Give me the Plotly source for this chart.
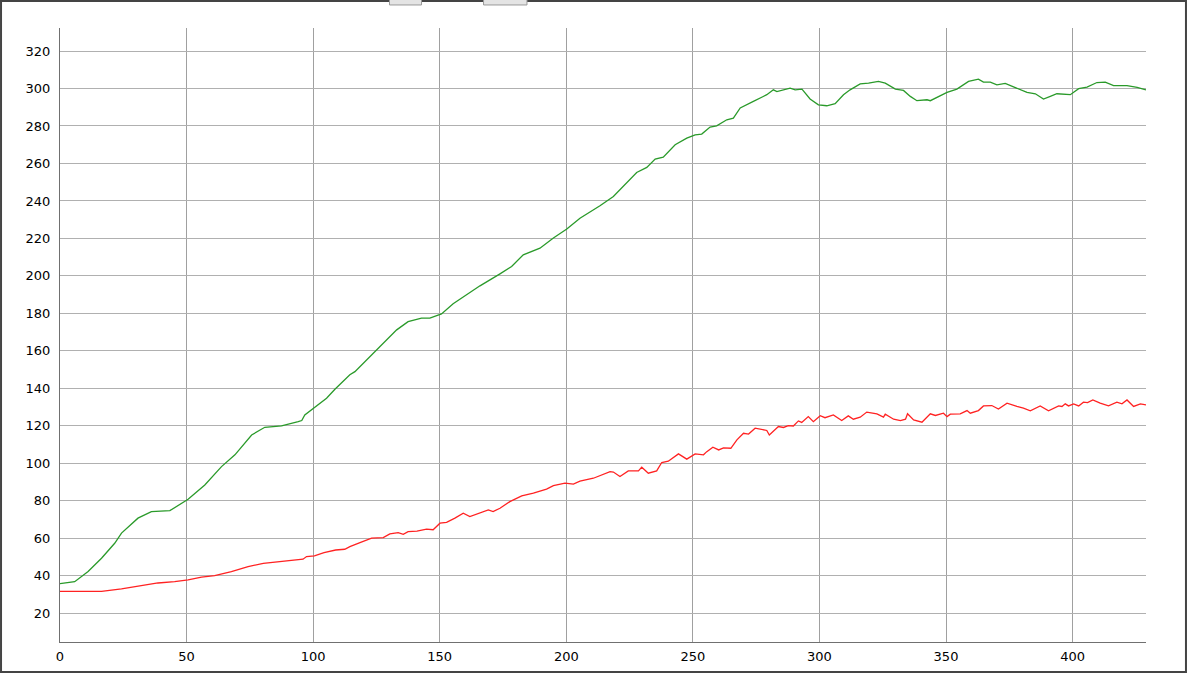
import plotly.graph_objects as go

# green series
green_x = [0, 5.8, 11.1, 16.4, 21.6, 24.3, 30.8, 36.1, 43.4, 50.6, 57.2, 63.8, 69.1, 75.7, 80.9,
           87.5, 94.1, 95.5, 96.7, 103.3, 105.3, 108.6, 114.5, 116.5, 123.7, 133.0, 137.5, 142.8,
           146.1, 150.7, 155.3, 160.6, 165.9, 173.8, 178.4, 183.0, 189.6, 194.9, 200.2, 205.4,
           210.7, 213.3, 218.6, 222.5, 227.8, 231.8, 235.1, 238.3, 243.0, 247.6, 250.9, 253.5,
           256.8, 259.4, 263.4, 266.0, 268.7, 273.9, 279.2, 281.8, 283.2, 288.4, 290.4, 293.1,
           296.3, 299.6, 302.9, 306.2, 309.5, 312.1, 316.1, 319.4, 323.3, 326.0, 330.0, 333.2,
           335.9, 338.5, 342.5, 343.8, 346.4, 350.4, 354.3, 358.9, 362.8, 364.8, 367.5, 370.1,
           373.4, 376.7, 382.0, 385.3, 388.5, 391.2, 393.8, 399.1, 402.4, 405.7, 409.6, 412.9,
           416.2, 421.5, 425.5, 429]
green_y = [35.8, 36.8, 42.2, 49.3, 57.3, 62.7, 70.7, 74.2, 74.7, 80.8, 88.4, 98.2, 104.5, 115.1, 119.2,
           119.9, 122.2, 122.8, 125.8, 132.9, 134.7, 139.5, 147.2, 148.9, 158.8, 171.2, 175.6, 177.5,
           177.5, 179.7, 185.1, 189.9, 194.7, 201.1, 205.0, 211.2, 214.8, 220.2, 225.0, 230.8,
           235.3, 237.4, 242.4, 247.7, 255.2, 257.9, 262.3, 263.4, 270.0, 273.5, 275.3, 275.7,
           279.4, 280.1, 283.3, 284.2, 289.6, 293.1, 296.7, 299.3, 298.4, 300.2, 299.3, 299.7,
           294.4, 291.3, 290.8, 291.9, 296.7, 299.3, 302.5, 302.9, 303.8, 302.9, 299.7, 299.0,
           295.8, 293.5, 294.0, 293.5, 295.2, 297.9, 299.7, 303.8, 305.0, 303.4, 303.4, 302.0,
           302.7, 300.8, 297.9, 297.2, 294.4, 295.8, 297.2, 296.7, 299.9, 300.8, 303.2, 303.4,
           301.5, 301.5, 300.6, 299.3]

# red series
red_x = [0, 16.4, 24.3, 32.2, 38.7, 45.3, 50.6, 55.9, 61.1, 67.7, 74.3, 80.3, 87.5, 92.8, 96, 97.4,
         100.5, 104.3, 108.9, 112.5, 114.5, 118.5, 123.1, 127.7, 130.3, 133.6, 135.6, 137.5, 141,
         144.8, 147.4, 150.1, 152.7, 156.0, 159.3, 161.9, 165.9, 169.2, 171.1, 173.8, 177.7, 182.4,
         187.0, 192.2, 194.9, 199.5, 202.8, 205.4, 210.7, 217.3, 218.6, 221.2, 224.5, 228.5, 229.8,
         232.4, 235.7, 237.7, 240.3, 244.3, 247.6, 250.9, 254.2, 255.5, 257.9, 260.2, 262.1, 265,
         267.4, 270.0, 272, 274.6, 279.2, 280.2, 283.8, 285.8, 287.7, 289.7, 291.7, 293.0, 295.6,
         297.6, 300.3, 302.2, 305.5, 308.8, 311.4, 313.4, 316.1, 318.7, 322.7, 325.3, 326, 329.3,
         332, 334, 334.8, 337.2, 340.5, 343.8, 345.8, 349.0, 350.4, 351.7, 355.6, 358.3, 359.6,
         362.8, 364.8, 368.1, 370.7, 374.1, 378, 380.6, 383.3, 387.2, 390.5, 392.5, 394.5, 395.8,
         397.1, 398.4, 400.4, 402.4, 404.3, 405.9, 408.0, 410.9, 414.2, 417.5, 419.5, 421.5, 424.1,
         426.8, 429]
red_y = [31.6, 31.6, 32.9, 34.5, 36.1, 36.8, 37.7, 39.2, 40.0, 42.2, 44.8, 46.6, 47.7, 48.4, 48.8, 50.2,
         50.6, 52.3, 53.7, 54.1, 55.5, 57.6, 60.0, 60.3, 62.3, 63.0, 62.1, 63.5, 63.8,
         64.8, 64.5, 68.0, 68.5, 70.7, 73.3, 71.5, 73.3, 75.1, 74.2, 76.0, 79.5, 82.6,
         84.0, 86.2, 88.1, 89.4, 88.9, 90.4, 92.0, 95.5, 95.3, 92.9, 95.9, 95.9, 97.9,
         94.7, 95.9, 100.4, 101.1, 105.0, 102.2, 105.0, 104.5, 106.2, 108.6, 107.1, 108.2, 108.0,
         112.5, 116.0, 115.6, 118.7, 117.5, 115.1, 119.6, 119.1, 120.1, 119.9, 122.6, 121.8, 124.9,
         122.2, 125.4, 124.3, 125.8, 122.8, 125.3, 123.5, 124.6, 127.3, 126.3, 124.6, 126.2, 123.5,
         122.8, 123.5, 126.4, 123.1, 121.9, 126.4, 125.5, 126.7, 124.9, 126.2, 126.4, 128.1, 126.7,
         128.1, 130.6, 130.8, 128.9, 132.1, 130.3, 129.4, 128.0, 130.6, 128.0, 129.4, 130.6, 130.3,
         131.7, 130.6, 131.7, 130.6, 132.6, 132.4, 133.8, 132.1, 130.6, 132.6, 131.7, 133.8, 130.3,
         131.7, 131.2]

fig = go.Figure()
fig.add_trace(go.Scatter(x=green_x, y=green_y, mode="lines",
                         line=dict(color="#2a9a2a", width=1.3)))
fig.add_trace(go.Scatter(x=red_x, y=red_y, mode="lines",
                         line=dict(color="#ff2222", width=1.3)))

axis_font = dict(family="DejaVu Sans", size=13, color="#000000")
fig.update_xaxes(range=[0, 429], dtick=50, tick0=0, showgrid=True, gridcolor="#a0a0a0",
                 gridwidth=1, zeroline=False, showline=True, linecolor="#707070", linewidth=1,
                 ticks="", ticklabelstandoff=2, tickfont=axis_font, automargin=False)
fig.update_yaxes(range=[4.6, 332.3], dtick=20, tick0=0, showgrid=True, gridcolor="#b0b0b0",
                 gridwidth=1, zeroline=False, showline=True, linecolor="#707070", linewidth=1,
                 ticks="", ticklabelstandoff=6, tickfont=axis_font, automargin=False)

# outer frame and the clipped buttons at the top edge
shapes = [
    dict(type="rect", xref="paper", yref="paper", x0=-0.0543, x1=1.0368, y0=-0.0489, y1=1.044,
         line=dict(color="#444444", width=2), fillcolor="rgba(0,0,0,0)", layer="above"),
    dict(type="rect", xref="paper", yref="paper", x0=0.3034, x1=0.3329, y0=1.0375, y1=1.047,
         line=dict(color="#999999", width=1), fillcolor="#e4e4e4"),
    dict(type="rect", xref="paper", yref="paper", x0=0.3900, x1=0.4300, y0=1.0375, y1=1.047,
         line=dict(color="#999999", width=1), fillcolor="#e4e4e4"),
]

fig.update_layout(width=1187, height=673, margin=dict(l=60, r=41, t=28, b=31),
                  plot_bgcolor="white", paper_bgcolor="white", showlegend=False,
                  shapes=shapes)

fig.write_html("out.html", config={"displayModeBar": False, "responsive": False},
               post_script="document.body.style.margin='0';")
